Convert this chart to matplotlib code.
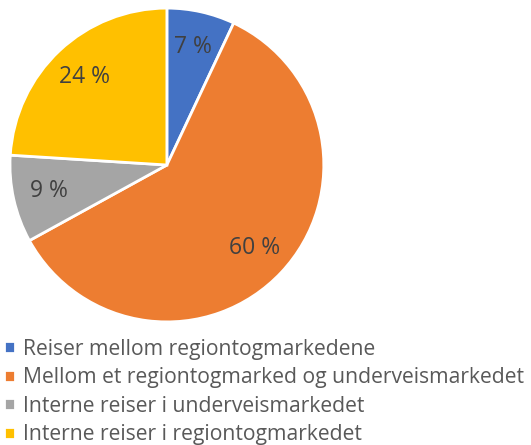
import matplotlib.pyplot as plt

categories = [
    "Reiser mellom regiontogmarkedene",
    "Mellom et regiontogmarked og underveismarkedet",
    "Interne reiser i underveismarkedet",
    "Interne reiser i regiontogmarkedet",
]
shares = [7, 60, 9, 24]
colors = ["#4472C4", "#ED7D31", "#A5A5A5", "#FFC000"]

plt.rcParams["font.family"] = ["Open Sans", "DejaVu Sans"]

fig = plt.figure(figsize=(5.31, 4.45), dpi=100)
ax = fig.add_axes([0.0188, 0.2764, 0.591, 0.7056])

wedges, texts, autotexts = ax.pie(
    shares,
    colors=colors,
    startangle=90,
    counterclock=False,
    autopct=lambda p: f"{p:.0f} %",
    pctdistance=0.77,
    wedgeprops=dict(edgecolor="white", linewidth=2),
    textprops=dict(color="#404040", fontsize=16.5),
)
ax.set_xlim(-1, 1)
ax.set_ylim(-1, 1)
ax.set_aspect("equal")

fig.legend(
    wedges,
    categories,
    loc="upper left",
    bbox_to_anchor=(-0.008, 0.258),
    frameon=False,
    fontsize=15.2,
    handlelength=0.5,
    handleheight=0.5,
    handletextpad=0.4,
    labelspacing=0.36,
    borderaxespad=0,
    labelcolor="#595959",
)

fig.savefig("out.png", dpi=100)
